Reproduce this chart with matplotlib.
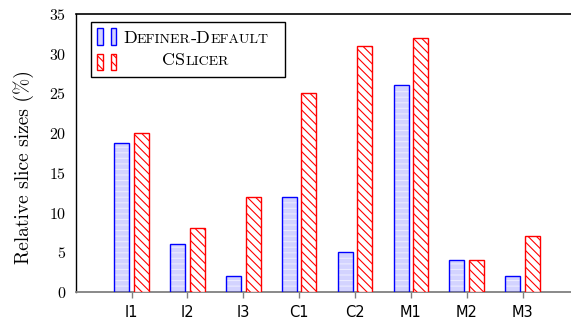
import numpy as np
import matplotlib
matplotlib.use('Agg')
import matplotlib.pyplot as plt
from matplotlib.patches import Rectangle
from matplotlib.offsetbox import (TextArea, HPacker, VPacker, DrawingArea,
                                  AnchoredOffsetbox)

plt.rcParams['axes.formatter.use_mathtext'] = True
plt.rcParams['hatch.linewidth'] = 0.8

benchmarks = ['I1', 'I2', 'I3', 'C1', 'C2', 'M1', 'M2', 'M3']
definer_default = [18.7, 6, 2, 12, 5, 26, 4, 2]
cslicer = [20, 8, 12, 25, 31, 32, 4, 7]

blue = '#0000ff'
red = '#ff0000'

fig = plt.figure(figsize=(5.71, 3.23), dpi=100)
ax = fig.add_axes([0.1326, 0.096, 0.8804, 0.8607])

x = np.arange(len(benchmarks))
w = 0.27
off = 0.175

# blue bars: light fill with faint horizontal stripes, then outline
ax.bar(x - off, definer_default, w, color='#d3d3ff', edgecolor='#ebebff',
       hatch='---', linewidth=0, zorder=2)
ax.bar(x - off, definer_default, w, fill=False, edgecolor=blue,
       linewidth=1.0, zorder=3)
# red bars: hatched
ax.bar(x + off, cslicer, w, color='white', edgecolor=red,
       hatch='\\\\\\\\', linewidth=1.0, zorder=3)

ax.set_xlim(-1, 8)
ax.set_ylim(0, 35)
ax.set_xticks(x)
ax.set_xticklabels(benchmarks, fontsize=10.5)
ax.set_yticks(range(0, 36, 5))
for lab in ax.get_yticklabels():
    lab.set_fontfamily('cmr10')
    lab.set_fontsize(11.5)
ax.tick_params(axis='y', length=0, pad=7)
ax.tick_params(axis='x', direction='out', length=4.5, width=1, color='#808080',
               pad=5)
ax.set_ylabel('Relative slice sizes (%)', fontfamily='cmr10', fontsize=14)
ax.yaxis.set_label_coords(-0.082, 0.45)

ax.spines['right'].set_visible(False)
ax.spines['top'].set_linewidth(1.2)
ax.spines['left'].set_linewidth(1.0)
ax.spines['bottom'].set_color('#808080')
ax.spines['bottom'].set_linewidth(1.3)


# legend built by hand (small caps labels)
def handle(face, edge, hatch):
    da = DrawingArea(14, 12, 0, 0)
    for x0 in (0, 9.6):
        da.add_artist(Rectangle((x0, 0), 4.1, 12, facecolor=face,
                                edgecolor=edge, hatch=hatch, lw=1.0))
    return da


def smallcaps(pieces, big=13, small=10):
    parts = []
    for text, is_big in pieces:
        parts.append(TextArea(text, textprops=dict(family='cmr10',
                                                   size=big if is_big else small)))
    return HPacker(children=parts, align='baseline', pad=0, sep=0)


lab1 = smallcaps([('D', 1), ('EFINER', 0), ('-D', 1), ('EFAULT', 0)])
lab2 = smallcaps([('CS', 1), ('LICER', 0)])
hcol = VPacker(children=[handle('#d3d3ff', blue, None),
                         handle('white', red, '\\\\\\\\')],
               align='left', pad=0, sep=6.4)
lcol = VPacker(children=[lab1, lab2], align='center', pad=0, sep=4.4)
box = HPacker(children=[hcol, lcol, DrawingArea(3, 1, 0, 0)],
              align='center', pad=0, sep=4.5)
leg = AnchoredOffsetbox(loc='upper left', child=box, pad=0.45, borderpad=0,
                        frameon=True, bbox_to_anchor=(91, 323 - 22),
                        bbox_transform=None)
leg.patch.set_edgecolor('black')
leg.patch.set_linewidth(1.0)
leg.patch.set_boxstyle('square', pad=0)
leg.set_zorder(5)
ax.add_artist(leg)

fig.savefig('out.png', dpi=100)
